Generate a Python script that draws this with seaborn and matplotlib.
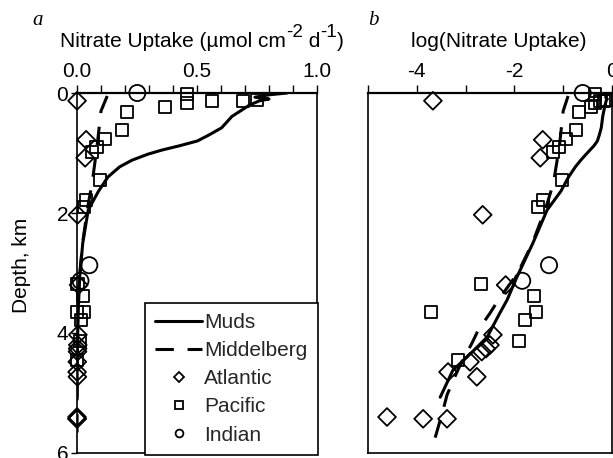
import numpy as np
import matplotlib
matplotlib.use("Agg")
import matplotlib.pyplot as plt
import seaborn as sns
from matplotlib.lines import Line2D

sns.set_theme(style="white")
plt.rcParams["font.family"] = ["Liberation Sans", "DejaVu Sans"]
plt.rcParams["axes.unicode_minus"] = False

# Depth (km) and log10 nitrate uptake (umol cm-2 d-1)
muds_depth = [0.00, 0.03, 0.07, 0.10, 0.13, 0.20, 0.39, 0.58, 0.70, 0.80, 0.88, 0.95, 1.02,
              1.12, 1.23, 1.40, 1.64, 1.95, 2.50, 3.07, 3.45, 3.67, 4.07, 4.40, 4.62, 5.07]
muds_log = [-0.058, -0.097, -0.130, -0.097, -0.119, -0.143, -0.19, -0.22, -0.26, -0.30, -0.37,
            -0.45, -0.53, -0.64, -0.75, -0.89, -1.05, -1.33, -1.62, -1.95, -2.15, -2.30, -2.56,
            -2.97, -3.26, -3.52]

midd_depth = [0.05, 0.30, 0.90, 1.50, 1.90, 2.50, 3.00, 3.45, 3.67, 3.95, 4.17, 4.53, 4.73,
              5.03, 5.28, 5.65, 5.87]
midd_log = [-0.90, -1.00, -1.08, -1.20, -1.35, -1.63, -1.93, -2.33, -2.50, -2.74, -2.87, -3.11,
            -3.22, -3.38, -3.46, -3.59, -3.67]

atlantic_depth = [0.13, 0.78, 1.08, 2.03, 3.20, 4.03, 4.20, 4.26, 4.31, 4.48, 4.65, 4.73,
                  5.40, 5.43, 5.43]
atlantic_log = [-3.67, -1.42, -1.47, -2.65, -2.18, -2.44, -2.50, -2.58, -2.67, -2.91, -3.36, -2.77,
                -4.61, -3.87, -3.38]

pacific_depth = [0.02, 0.16, 0.14, 0.14, 0.12, 0.23, 0.32, 0.62, 0.77, 0.90, 0.98, 1.45, 1.78,
                 1.90, 3.18, 3.38, 3.65, 3.65, 3.78, 4.13, 4.45]
pacific_log = [-0.34, -0.34, -0.25, -0.16, -0.125, -0.435, -0.68, -0.73, -0.94, -1.09, -1.21,
               -1.02, -1.42, -1.51, -2.68, -1.60, -1.56, -3.70, -1.78, -1.90, -3.16]

indian_depth = [0.00, 2.87, 3.13]
indian_log = [-0.60, -1.29, -1.84]

left_ticks = np.round(np.arange(0, 1.01, 0.1), 1)
left_ticklabels = ["0.0", "", "", "", "", "0.5", "", "", "", "", "1.0"]
right_ticks = [-5, -4, -3, -2, -1, 0]
right_ticklabels = ["", "-4", "", "-2", "", "0"]

W, H = 613, 458
fig = plt.figure(figsize=(W / 100, H / 100), dpi=100)
axL = fig.add_axes([77 / W, 1 - 453 / H, 240 / W, 360 / H])
axR = fig.add_axes([368 / W, 1 - 453 / H, 244 / W, 360 / H])

LW = 2.2
DASH = (0, (6, 4.5))


def linear(v):
    return 10 ** np.asarray(v)


def as_log(v):
    return np.asarray(v)


def draw_panel(ax, tf):
    sns.lineplot(x=tf(muds_log), y=muds_depth, orient="y", sort=False, estimator=None,
                 color="black", lw=LW, ax=ax, legend=False, zorder=2)
    sns.lineplot(x=tf(midd_log), y=midd_depth, orient="y", sort=False, estimator=None,
                 color="black", lw=LW, linestyle=DASH, ax=ax, legend=False, zorder=2)
    common = dict(facecolor="none", edgecolor="black", linewidth=1.3, ax=ax,
                  clip_on=False, zorder=3, legend=False)
    sns.scatterplot(x=tf(atlantic_log), y=atlantic_depth, marker="D", s=82, **common)
    sns.scatterplot(x=tf(pacific_log), y=pacific_depth, marker="s", s=76, **common)
    sns.scatterplot(x=tf(indian_log), y=indian_depth, marker="o", s=135, **common)
    ax.set_ylim(6, 0)
    ax.set_xlabel("")
    ax.set_ylabel("")
    for side, sp in ax.spines.items():
        sp.set_color("black")
        sp.set_linewidth(1.6 if side == "top" else 1.2)
        sp.set_visible(True)
    ax.xaxis.set_ticks_position("top")
    ax.tick_params(axis="x", top=True, bottom=False, labeltop=True, labelbottom=False,
                   direction="out", length=5.8, width=1.0, pad=3, labelsize=15,
                   colors="black")


draw_panel(axL, linear)
axL.set_xlim(0, 1)
axL.set_xticks(left_ticks)
axL.set_xticklabels(left_ticklabels)
axL.set_yticks([0, 2, 4, 6])
axL.set_yticklabels(["0", "2", "4", "6"])
axL.tick_params(axis="y", left=True, right=False, direction="out", length=4.3,
                width=1.0, pad=2, labelsize=15, colors="black")

draw_panel(axR, as_log)
axR.set_xlim(-5, 0)
axR.set_xticks(right_ticks)
axR.set_xticklabels(right_ticklabels)
axR.set_yticks([])

# Legend
handles = [
    Line2D([], [], color="black", lw=LW, label="Muds"),
    Line2D([], [], color="black", lw=LW, ls=DASH, label="Middelberg"),
    Line2D([], [], ls="none", marker="D", ms=5.2, mfc="none", mec="black", mew=1.3,
           label="Atlantic"),
    Line2D([], [], ls="none", marker="s", ms=5.8, mfc="none", mec="black", mew=1.3,
           label="Pacific"),
    Line2D([], [], ls="none", marker="o", ms=5.6, mfc="none", mec="black", mew=1.3,
           label="Indian"),
]
leg = fig.legend(handles=handles, loc="lower right", bbox_to_anchor=(318 / W, 1 - 455 / H),
                 bbox_transform=fig.transFigure, frameon=True, fancybox=False,
                 edgecolor="black", framealpha=1, borderaxespad=0, handlelength=2.25,
                 handletextpad=0.1, labelspacing=0.44, borderpad=0.5, fontsize=15)
leg.get_frame().set_linewidth(1.2)
leg.set_zorder(5)

# Titles: left one built piecewise so the exponents sit raised at near full size
renderer = fig.canvas.get_renderer()
base_y = 1 - 47 / H
sup_y = 1 - 37 / H
x = 60 / W
pieces = [("Nitrate Uptake (\u00b5mol cm", base_y, 15), ("-2", sup_y, 13.5),
          (" d", base_y, 15), ("-1", sup_y, 13.5), (")", base_y, 15)]
for txt, yy, fs in pieces:
    t = fig.text(x, yy, txt, fontsize=fs, ha="left", va="baseline", color="black")
    bb = t.get_window_extent(renderer)
    x = bb.x1 / W

fig.text(499 / W, base_y, "log(Nitrate Uptake)", fontsize=15, ha="center",
         va="baseline", color="black")

fig.text(32 / W, 1 - 25 / H, "a", fontsize=15, family="Liberation Serif",
         style="italic", va="baseline", color="black")
fig.text(368 / W, 1 - 25 / H, "b", fontsize=15, family="Liberation Serif",
         style="italic", va="baseline", color="black")

fig.text(22 / W, 1 - 265 / H, "Depth, km", fontsize=15, rotation=90, ha="center",
         va="center", color="black")

fig.savefig("out.png", dpi=100)
